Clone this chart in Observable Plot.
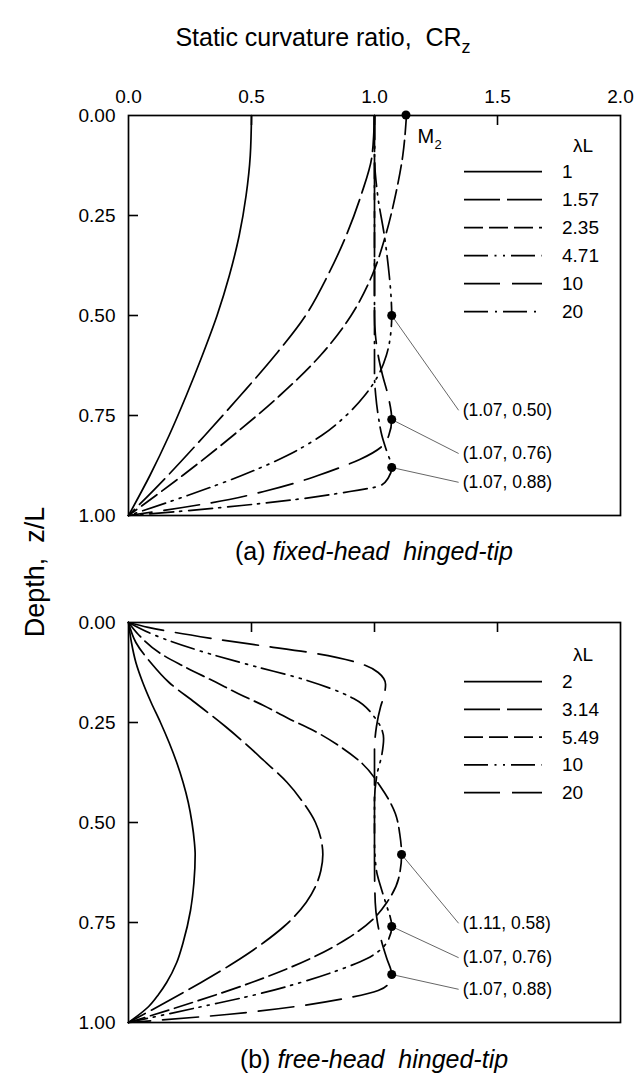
<!DOCTYPE html>
<html><head><meta charset="utf-8">
<script src="https://cdn.jsdelivr.net/npm/d3@7"></script>
<script src="https://cdn.jsdelivr.net/npm/@observablehq/plot@0.6"></script>
<style>
body{margin:0;background:#fff;}
#wrap{position:relative;width:638px;height:1077px;overflow:hidden;background:#fff;font-family:"Liberation Sans",Arial,sans-serif;color:#000;}
#wrap > svg{position:absolute;left:0;}
</style></head><body><div id="wrap"></div>
<script>
// ---------- data ----------
const xTicks = [0, 0.5, 1.0, 1.5, 2.0];
const yTicks = [0, 0.25, 0.5, 0.75, 1.0];

// (a) fixed-head hinged-tip
const lamA = ["1", "1.57", "2.35", "4.71", "10", "20"];
const zA1  = [0, 0.1, 0.2, 0.3, 0.4, 0.5, 0.6, 0.7, 0.8, 0.9, 1.0];
const crA1 = [0.50, 0.495, 0.478, 0.45, 0.41, 0.36, 0.30, 0.235, 0.165, 0.087, 0];
const zA2  = [0, 0.1, 0.2, 0.3, 0.4, 0.5, 0.6, 0.7, 0.8, 0.9, 1.0];
const crA2 = [1.0, 0.99, 0.945, 0.885, 0.81, 0.72, 0.595, 0.455, 0.31, 0.16, 0];
const zA3  = [0, 0.1, 0.2, 0.3, 0.4, 0.5, 0.6, 0.7, 0.8, 0.9, 1.0];
const crA3 = [1.13, 1.115, 1.085, 1.045, 0.99, 0.905, 0.78, 0.615, 0.425, 0.22, 0];
const zA4  = [0, 0.1, 0.2, 0.3, 0.4, 0.45, 0.5, 0.55, 0.6, 0.65, 0.7, 0.75, 0.8, 0.85, 0.9, 0.95, 1.0];
const crA4 = [1.0, 1.0, 1.013, 1.04, 1.06, 1.067, 1.07, 1.065, 1.048, 1.015, 0.96, 0.885, 0.785, 0.645, 0.46, 0.24, 0];
const zA5  = [0, 0.3, 0.5, 0.55, 0.6, 0.65, 0.7, 0.76, 0.8, 0.83, 0.86, 0.88, 0.9, 0.92, 0.94, 0.96, 0.98, 1.0];
const crA5 = [1.0, 1.0, 1.0, 1.004, 1.015, 1.033, 1.055, 1.07, 1.058, 1.025, 0.94, 0.86, 0.77, 0.67, 0.55, 0.41, 0.22, 0];
const zA6  = [0, 0.5, 0.65, 0.7, 0.75, 0.8, 0.84, 0.88, 0.905, 0.925, 0.94, 0.96, 0.975, 0.99, 1.0];
const crA6 = [1.0, 1.0, 1.0, 1.005, 1.015, 1.03, 1.05, 1.07, 1.057, 1.025, 0.9, 0.68, 0.46, 0.2, 0];

// (b) free-head hinged-tip
const lamB = ["2", "3.14", "5.49", "10", "20"];
const zB1  = [0, 0.05, 0.1, 0.15, 0.2, 0.25, 0.3, 0.35, 0.4, 0.45, 0.5, 0.55, 0.58, 0.65, 0.72, 0.8, 0.85, 0.9, 0.93, 0.96, 1.0];
const crB1 = [0, 0.012, 0.03, 0.058, 0.092, 0.13, 0.165, 0.196, 0.222, 0.243, 0.258, 0.268, 0.271, 0.266, 0.252, 0.222, 0.196, 0.155, 0.122, 0.082, 0];
const zB2  = [0, 0.05, 0.1, 0.15, 0.2, 0.26, 0.3, 0.345, 0.4, 0.45, 0.5, 0.54, 0.58, 0.62, 0.66, 0.7, 0.76, 0.8, 0.85, 0.9, 0.95, 1.0];
const crB2 = [0, 0.03, 0.09, 0.165, 0.27, 0.394, 0.47, 0.55, 0.645, 0.71, 0.76, 0.782, 0.79, 0.782, 0.76, 0.722, 0.632, 0.55, 0.43, 0.295, 0.15, 0];
const zB3  = [0, 0.03, 0.0775, 0.1075, 0.149, 0.178, 0.2075, 0.24, 0.27, 0.3075, 0.3525, 0.41, 0.478, 0.53, 0.58, 0.64, 0.7, 0.74, 0.79, 0.84, 0.9, 0.95, 1.0];
const crB3 = [0, 0.04, 0.13, 0.218, 0.354, 0.447, 0.549, 0.65, 0.752, 0.854, 0.95, 1.024, 1.085, 1.103, 1.11, 1.098, 1.05, 0.997, 0.89, 0.74, 0.5, 0.26, 0];
const zB4  = [0, 0.03, 0.07, 0.11, 0.14, 0.19, 0.24, 0.29, 0.33, 0.38, 0.45, 0.55, 0.62, 0.66, 0.7, 0.76, 0.8, 0.84, 0.87, 0.9, 0.93, 0.96, 1.0];
const crB4 = [0, 0.1, 0.285, 0.516, 0.7, 0.915, 1.004, 1.037, 1.03, 1.01, 1.0, 1.0, 1.008, 1.025, 1.045, 1.07, 1.05, 0.97, 0.85, 0.7, 0.52, 0.3, 0];
const zB5  = [0, 0.012, 0.025, 0.04, 0.057, 0.074, 0.099, 0.125, 0.155, 0.18, 0.21, 0.26, 0.32, 0.6, 0.7, 0.75, 0.8, 0.84, 0.88, 0.9, 0.92, 0.94, 0.96, 0.98, 1.0];
const crB5 = [0, 0.08, 0.19, 0.34, 0.53, 0.726, 0.923, 1.015, 1.045, 1.04, 1.025, 1.008, 1.0, 1.0, 1.003, 1.012, 1.03, 1.05, 1.07, 1.06, 1.015, 0.88, 0.68, 0.4, 0];

// marked points and their labels
const ptCrA  = [1.07, 1.07, 1.07];
const ptZA   = [0.50, 0.76, 0.88];
const ptCrB  = [1.11, 1.07, 1.07];
const ptZB   = [0.58, 0.76, 0.88];
const m2Cr = 1.13, m2Z = 0;
// label anchor (end of leader line) in data units
const labCr  = 1.342;
const labZA  = [0.737, 0.845, 0.917];
const labZB  = [0.752, 0.838, 0.917];

// ---------- styles ----------
const LD = "36,7", MD = "19,6", DDD = "24,6.5,2,6.5,2,6", LDG = "36,12", DD = "24,7,2,6";
const dashA = [null, LD, MD, DDD, LDG, DD];
const dashB = [null, LD, MD, DDD, LDG];
const FONT = '"Liberation Sans", Arial, sans-serif';

const seriesA = [[zA1,crA1],[zA2,crA2],[zA3,crA3],[zA4,crA4],[zA5,crA5],[zA6,crA6]]
  .map(([z, cr], i) => ({lam: lamA[i], dash: dashA[i], pts: z.map((zz, j) => ({z: zz, cr: cr[j]}))}));
const seriesB = [[zB1,crB1],[zB2,crB2],[zB3,crB3],[zB4,crB4],[zB5,crB5]]
  .map(([z, cr], i) => ({lam: lamB[i], dash: dashB[i], pts: z.map((zz, j) => ({z: zz, cr: cr[j]}))}));

const annA = ptCrA.map((c, i) => ({cr: c, z: ptZA[i], lx: labCr, lz: labZA[i], label: `(${c.toFixed(2)}, ${ptZA[i].toFixed(2)})`}));
const annB = ptCrB.map((c, i) => ({cr: c, z: ptZB[i], lx: labCr, lz: labZB[i], label: `(${c.toFixed(2)}, ${ptZB[i].toFixed(2)})`}));

function panel(series, ann, showXLabels, mt, mb) {
  const marks = [
    Plot.ruleX(xTicks.slice(1, -1), {x: d => d, insetBottom: 390, stroke: "#000", strokeWidth: 1.6}),
    Plot.ruleY(yTicks.slice(1, -1), {y: d => d, insetRight: 482, stroke: "#000", strokeWidth: 1.6}),
    Plot.axisY({ticks: yTicks, tickSize: 0, tickPadding: 13, tickFormat: d => d.toFixed(2), label: null, fontSize: 19}),
  ];
  if (showXLabels) marks.push(Plot.axisX({anchor: "top", ticks: xTicks, tickSize: 0, tickPadding: 13, tickFormat: d => d.toFixed(1), label: null, fontSize: 19}));
  for (const s of series) {
    marks.push(Plot.line(s.pts, {x: "cr", y: "z", curve: "monotone-y", stroke: "#000", strokeWidth: 1.7,
      strokeDasharray: s.dash || undefined}));
  }
  marks.push(Plot.link(ann, {x1: "cr", y1: "z", x2: "lx", y2: "lz", stroke: "#555", strokeWidth: 0.9}));
  marks.push(Plot.dot(ann, {x: "cr", y: "z", r: 4.5, fill: "#000", stroke: null}));
  marks.push(Plot.text(ann, {x: "lx", y: "lz", text: "label", textAnchor: "start", dx: 4, fontSize: 17.5}));
  marks.push(Plot.frame({stroke: "#000", strokeWidth: 1.7}));
  return Plot.plot({
    width: 638, height: mt + 400 + mb,
    marginTop: mt, marginBottom: mb, marginLeft: 128, marginRight: 18,
    x: {domain: [0, 2], axis: null},
    y: {domain: [0, 1], reverse: true, axis: null},
    style: {fontFamily: FONT, fontSize: "19px", color: "#000", background: "transparent", overflow: "visible"},
    marks
  });
}

const wrap = document.getElementById("wrap");

const topPlot = panel(seriesA, annA, true, 115, 15);
topPlot.style.top = "0px";
wrap.appendChild(topPlot);

const botPlot = panel(seriesB, annB, false, 20, 10);
botPlot.style.top = "602px";
wrap.appendChild(botPlot);

// overlay: M2 marker, legends, titles
const ov = d3.select(wrap).append("svg")
  .attr("width", 638).attr("height", 1077)
  .style("position", "absolute").style("left", "0px").style("top", "0px")
  .style("font-family", FONT);

const sx = topPlot.scale("x"), sy = topPlot.scale("y");
const mx = sx.apply(m2Cr), my = sy.apply(m2Z);
ov.append("circle").attr("cx", mx).attr("cy", my).attr("r", 4.5).attr("fill", "#000");
ov.append("text").attr("x", mx + 11.5).attr("y", my + 28).attr("font-size", 20).text("M");
ov.append("text").attr("x", mx + 28.5).attr("y", my + 34).attr("font-size", 13).text("2");

function legend(lams, dashes, headY, rowY0, rowStep) {
  const g = ov.append("g");
  g.append("text").attr("x", 583).attr("y", headY).attr("text-anchor", "middle").attr("dominant-baseline", "central")
    .attr("font-size", 19).text("\u03bbL");
  lams.forEach((l, i) => {
    const y = rowY0 + i * rowStep;
    g.append("line").attr("x1", 464).attr("x2", 542).attr("y1", y).attr("y2", y)
      .attr("stroke", "#000").attr("stroke-width", 1.7)
      .attr("stroke-dasharray", dashes[i] || null);
    g.append("text").attr("x", 562).attr("y", y).attr("dominant-baseline", "central").attr("font-size", 19).text(l);
  });
}
legend(lamA, dashA, 145, 171.7, 28);
legend(lamB, dashB, 654, 681.7, 27.75);

const title = ov.append("text").attr("x", 323).attr("y", 46).attr("text-anchor", "middle").attr("font-size", 25);
title.append("tspan").text("Static curvature ratio,\u00a0\u00a0CR");
title.append("tspan").attr("font-size", 18).attr("dy", 7).text("z");

ov.append("text").attr("transform", "translate(44,572) rotate(-90)").attr("text-anchor", "middle")
  .attr("font-size", 27).text("Depth,\u00a0\u00a0z/L");

function caption(y, tag, rest) {
  const t = ov.append("text").attr("x", 374).attr("y", y).attr("text-anchor", "middle").attr("font-size", 25);
  t.append("tspan").text(tag + " ");
  t.append("tspan").attr("font-style", "italic").text(rest);
}
caption(560, "(a)", "fixed-head\u00a0\u00a0hinged-tip");
caption(1068, "(b)", "free-head\u00a0\u00a0hinged-tip");
</script></body></html>
